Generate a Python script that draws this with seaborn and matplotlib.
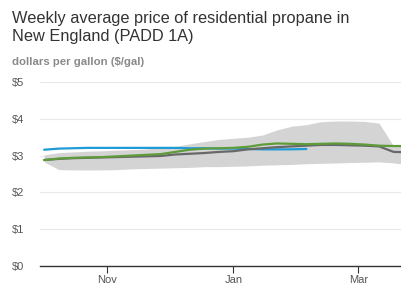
import pandas as pd
import numpy as np
import seaborn as sns
import matplotlib.pyplot as plt
import matplotlib.dates as mdates

# weekly dates, Oct - Mar
weeks = pd.date_range('2023-10-02', '2024-03-25', freq='7D')

# current season (dark gray)
price_gray = [2.88, 2.91, 2.93, 2.94, 2.95, 2.96, 2.97, 2.98, 2.99, 3.03, 3.05, 3.07, 3.10,
              3.12, 3.17, 3.20, 3.23, 3.25, 3.27, 3.29, 3.29, 3.28, 3.27, 3.25, 3.10, 3.09]
# green season
price_green = [2.88, 2.92, 2.94, 2.95, 2.96, 2.98, 3.00, 3.02, 3.04, 3.10, 3.16, 3.19, 3.20,
               3.21, 3.24, 3.30, 3.33, 3.32, 3.31, 3.32, 3.33, 3.32, 3.30, 3.27, 3.26, 3.26]
# blue season (shorter)
price_blue = [3.16, 3.19, 3.20, 3.21, 3.21, 3.21, 3.21, 3.21, 3.21, 3.21, 3.20, 3.20, 3.19,
              3.19, 3.18, 3.17, 3.17, 3.17, 3.18]
# 5-year range band
band_high = [3.02, 3.08, 3.10, 3.12, 3.13, 3.15, 3.16, 3.18, 3.22, 3.25, 3.32, 3.38, 3.44,
             3.47, 3.50, 3.56, 3.70, 3.80, 3.84, 3.92, 3.94, 3.94, 3.93, 3.88, 3.25, 3.26]
band_low = [2.83, 2.62, 2.61, 2.61, 2.61, 2.62, 2.64, 2.65, 2.66, 2.67, 2.68, 2.70, 2.70,
            2.71, 2.72, 2.74, 2.75, 2.76, 2.78, 2.79, 2.80, 2.81, 2.82, 2.83, 2.80, 2.75]

yticks = [0, 1, 2, 3, 4, 5]
ytick_labels = ['$0', '$1', '$2', '$3', '$4', '$5']

df = pd.DataFrame({'week': weeks, 'gray': price_gray, 'green': price_green})
df_blue = pd.DataFrame({'week': weeks[:len(price_blue)], 'blue': price_blue})

sns.set_style('white')
plt.rcParams['font.family'] = ['Liberation Sans', 'DejaVu Sans']

fig = plt.figure(figsize=(4.02, 2.85), dpi=100)
ax = fig.add_axes([40 / 402, 19 / 285, 362 / 402, 184 / 285])

ax.fill_between(weeks, band_low, band_high, color='#d4d4d4', linewidth=0, zorder=1)
sns.lineplot(data=df_blue, x='week', y='blue', ax=ax, color='#1f9bd7', linewidth=1.6, zorder=3)
sns.lineplot(data=df, x='week', y='gray', ax=ax, color='#686868', linewidth=1.6, zorder=3)
sns.lineplot(data=df, x='week', y='green', ax=ax, color='#5e9c3a', linewidth=1.6, zorder=4)

ax.set_xlim(pd.Timestamp('2023-09-30'), pd.Timestamp('2024-03-22'))
ax.set_ylim(0, 5)
ax.set_yticks(yticks)
ax.set_yticklabels(ytick_labels)
ax.grid(axis='y', color='#e8e8e8', linewidth=0.8)
ax.set_axisbelow(True)

ax.xaxis.set_major_locator(mdates.MonthLocator(bymonth=[11, 1, 3]))
ax.xaxis.set_major_formatter(mdates.DateFormatter('%b'))
ax.set_xlabel('')
ax.set_ylabel('')

for s in ['top', 'right', 'left']:
    ax.spines[s].set_visible(False)
ax.spines['bottom'].set_color('#333333')
ax.spines['bottom'].set_linewidth(1)

ax.tick_params(axis='y', length=0, labelsize=8, labelcolor='#555555', pad=20)
ax.tick_params(axis='x', length=5, width=0.8, color='#333333', labelsize=8,
               labelcolor='#555555', pad=1.5, bottom=True)
for lab in ax.get_yticklabels():
    lab.set_horizontalalignment('left')

fig.text(12 / 402, 1 - 11 / 285, 'Weekly average price of residential propane in\nNew England (PADD 1A)',
         fontsize=11.8, color='#333333', va='top', ha='left', linespacing=1.25)
fig.text(12 / 402, 1 - 62 / 285, 'dollars per gallon ($/gal)', fontsize=8.2,
         fontweight='bold', color='#8a8a8a', va='center', ha='left')

fig.savefig('out.png', dpi=100)
